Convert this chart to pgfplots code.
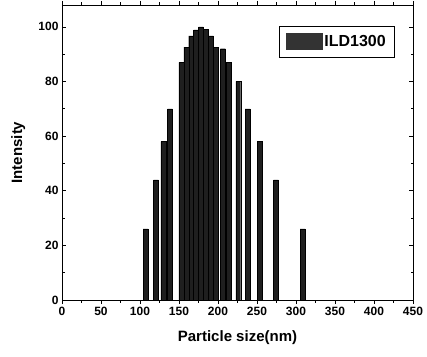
\documentclass[border=0pt]{standalone}
\usepackage{pgfplots}
\pgfplotsset{compat=1.18}
\usepackage{fontspec}
\setmainfont{Liberation Sans}
\begin{document}
\begin{tikzpicture}
\begin{axis}[
  name=ax,
  scale only axis,
  width=351pt, height=295pt,
  xmin=0, xmax=450, ymin=0, ymax=108,
  xtick={0,50,...,450}, minor x tick num=1,
  ytick={0,20,...,100}, minor y tick num=1,
  tick align=inside,
  major tick length=4pt, minor tick length=2.5pt,
  axis line style={line width=0.8pt},
  every tick/.style={line width=0.7pt, black},
  /pgf/number format/assume math mode=true,
  tick label style={font=\bfseries\fontsize{12}{14}\selectfont},
  xlabel={Particle size(nm)}, ylabel={Intensity},
  label style={font=\bfseries\fontsize{15}{17}\selectfont},
  xlabel style={at={(axis description cs:0.5,-0.127)}, anchor=center},
  ylabel style={at={(axis description cs:-0.125,0.5)}, anchor=center},
  ybar, bar width=6.3,
  legend style={at={(1,1)}, anchor=north east, xshift=-18pt, yshift=-21pt,
    draw=black, line width=0.6pt, font=\bfseries\fontsize{16}{18}\selectfont,
    inner xsep=7pt, inner ysep=7pt},
  legend image code/.code={\fill[black!80] (0pt,-8pt) rectangle (36pt,8pt);},
]
\addplot[fill=black!88, draw=black, line width=0.3pt] coordinates {
(107.3,26) (120.5,44) (130,58) (138.5,70)
(153,87) (159.3,92.6) (165.6,96.7) (171.9,98.9) (178.2,100) (184.5,99) (190.8,96.7) (197.1,92.6)
(206.2,92) (214.1,87) (226,80) (238,70) (253.8,58) (274.4,44) (308.5,26)
};
\addlegendentry{ILD1300}
\end{axis}
\path ([xshift=-62pt,yshift=-56pt]ax.south west) ([xshift=14pt,yshift=5pt]ax.north east);
\end{tikzpicture}
\end{document}
